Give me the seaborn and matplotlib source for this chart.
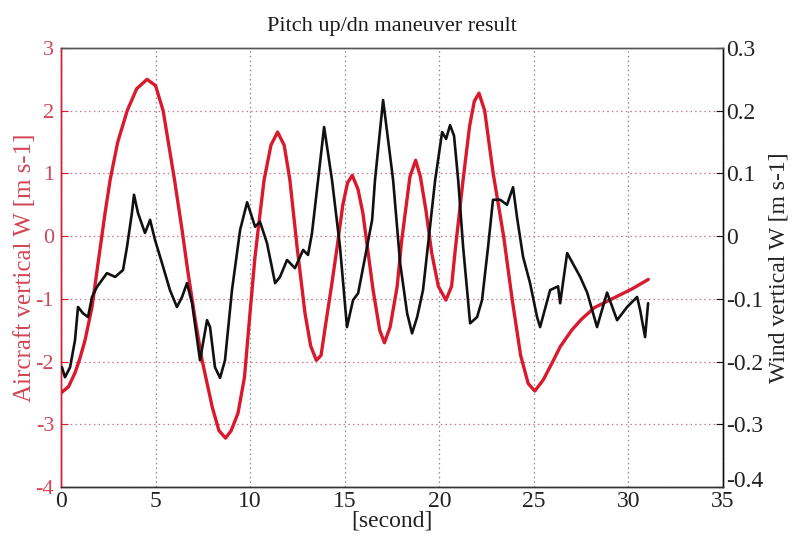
import numpy as np
import pandas as pd
import matplotlib
matplotlib.use("Agg")
import matplotlib.pyplot as plt
import seaborn as sns

# ---- data ----
aircraft_t = [0.0, 0.4, 0.74, 1.0, 1.27, 1.64, 1.96, 2.33, 2.6, 3.0, 3.5, 4.0, 4.55, 5.0, 5.4,
              5.7, 6.0, 6.4, 6.7, 7.1, 7.46, 8.0, 8.35, 8.7, 9.0, 9.36, 9.7, 10.0, 10.25, 10.5,
              10.74, 11.1, 11.45, 11.8, 12.1, 12.48, 12.9, 13.2, 13.5, 13.75, 14.0, 14.3, 14.6,
              14.9, 15.15, 15.4, 15.7, 15.96, 16.5, 16.85, 17.1, 17.4, 17.77, 18.0, 18.2, 18.45,
              18.75, 19.0, 19.3, 19.6, 19.95, 20.35, 20.65, 20.85, 21.26, 21.6, 21.85, 22.1,
              22.4, 22.6, 22.85, 23.4, 23.85, 24.3, 24.7, 25.05, 25.5, 26.0, 26.4, 27.0, 27.5,
              28.2, 29.4, 30.2, 31.05]
aircraft_w = [-2.5, -2.4, -2.18, -1.95, -1.66, -1.13, -0.43, 0.37, 0.9, 1.5, 2.0, 2.35, 2.5, 2.4, 2.0,
              1.45, 0.9, 0.1, -0.55, -1.34, -1.98, -2.73, -3.1, -3.22, -3.1, -2.82, -2.25, -1.2, -0.35, 0.3,
              0.9, 1.45, 1.66, 1.45, 0.9, -0.17, -1.23, -1.75, -1.98, -1.9, -1.39, -0.8, -0.17,
              0.5, 0.85, 0.97, 0.75, 0.37, -0.86, -1.5, -1.7, -1.45, -0.81, -0.1, 0.37, 0.95,
              1.21, 0.95, 0.4, -0.27, -0.8, -1.02, -0.8, -0.2, 0.9, 1.75, 2.15, 2.28,
              2.0, 1.55, 1.0, 0.0, -1.0, -1.9, -2.35, -2.47, -2.29, -2.0, -1.76, -1.5, -1.33,
              -1.14, -0.96, -0.84, -0.69]

wind_t = [0.05, 0.21, 0.48, 0.74, 0.90, 1.16, 1.43, 1.64, 1.90, 2.43, 2.86, 3.28, 3.49, 3.75, 3.86,
          4.07, 4.44, 4.71, 4.97, 5.34, 5.76, 6.13, 6.40, 6.66, 6.93, 7.35, 7.72, 7.88, 8.14, 8.41,
          8.67, 9.04, 9.47, 9.84, 10.10, 10.26, 10.52, 10.89, 11.32, 11.58, 11.95, 12.37, 12.80,
          13.06, 13.27, 13.59, 13.91, 14.33, 14.75, 15.12, 15.44, 15.71, 16.08, 16.45, 16.60,
          17.03, 17.56, 17.93, 18.30, 18.56, 18.83, 19.14, 19.51, 19.78, 20.15, 20.36, 20.57,
          20.78, 21.00, 21.26, 21.63, 22.00, 22.26, 22.58, 22.84, 23.22, 23.58, 23.90, 24.11,
          24.43, 24.80, 25.17, 25.33, 25.86, 26.28, 26.39, 26.76, 27.45, 27.82, 28.34, 28.87,
          29.40, 29.93, 30.46, 30.62, 30.88, 31.04]
wind_w = [-0.209, -0.225, -0.209, -0.166, -0.113, -0.123, -0.129, -0.097, -0.081, -0.059, -0.065,
          -0.054, -0.017, 0.037, 0.066, 0.037, 0.005, 0.026, -0.006, -0.043, -0.086, -0.113, -0.097,
          -0.075, -0.107, -0.198, -0.134, -0.145, -0.209, -0.226, -0.198, -0.086, 0.010, 0.054,
          0.030, 0.015, 0.023, -0.011, -0.075, -0.065, -0.038, -0.051, -0.022, -0.030, 0.005,
          0.089, 0.174, 0.089, -0.017, -0.145, -0.102, -0.091, -0.033, 0.026, 0.089, 0.217,
          0.089, -0.043, -0.123, -0.155, -0.129, -0.086, 0.015, 0.089, 0.166, 0.155, 0.177,
          0.160, 0.089, -0.017, -0.139, -0.129, -0.102, -0.017, 0.058, 0.058, 0.050, 0.078,
          0.030, -0.033, -0.075, -0.129, -0.145, -0.086, -0.080, -0.107, -0.027, -0.065,
          -0.090, -0.145, -0.090, -0.134, -0.113, -0.097, -0.118, -0.161, -0.107]

x_ticks = [0, 5, 10, 15, 20, 25, 30, 35]
left_ticks = [-4, -3, -2, -1, 0, 1, 2, 3]
left_labels = ["-4", "-3", "-2", "-1", "0", "1", "2", "3"]
right_ticks = [-0.4, -0.3, -0.2, -0.1, 0, 0.1, 0.2, 0.3]
right_labels = ["-0.4", "-0.3", "-0.2", "-0.1", "0", "0.1", "0.2", "0.3"]

title = "Pitch up/dn maneuver result"
xlabel = "[second]"
left_label = "Aircraft vertical W [m s-1]"
right_label = "Wind vertical W [m s-1]"

# ---- style ----
sns.set_style("white")
plt.rcParams["font.family"] = ["Liberation Serif", "DejaVu Serif"]
plt.rcParams["axes.unicode_minus"] = False

RED = "#d91a2e"
RED_TXT = "#d24656"
BLACK = "#111111"

df_a = pd.DataFrame({"t": aircraft_t, "w": aircraft_w})
df_w = pd.DataFrame({"t": wind_t, "w": wind_w})

fig = plt.figure(figsize=(7.92, 5.36), dpi=100)
ax = fig.add_axes([61 / 792, 1 - 487 / 536, (723 - 61) / 792, (487 - 48) / 536])
ax2 = ax.twinx()

sns.lineplot(data=df_a, x="t", y="w", ax=ax, color=RED, lw=2.4, estimator=None, sort=False, zorder=3)
sns.lineplot(data=df_w, x="t", y="w", ax=ax2, color=BLACK, lw=1.9, estimator=None, sort=False, zorder=4)

ax.set_xlim(0, 35)
ax.set_ylim(-4, 3)
ax2.set_ylim(-0.4, 0.3)
ax.set_xticks(x_ticks)
ax.set_yticks(left_ticks)
ax.set_yticklabels(left_labels)
ax2.set_yticks(right_ticks)
ax2.set_yticklabels(right_labels)
# lift the bottom right label slightly, as in the reference
ax2.get_yticklabels()[0].set_verticalalignment("baseline")

# grids: horizontal pinkish dotted, vertical grey dotted
ax.yaxis.grid(True, linestyle=(0, (1.2, 2.5)), color="#c47a88", lw=0.9)
ax.xaxis.grid(True, linestyle=(0, (1.2, 2.5)), color="#8a8a8a", lw=0.9)
ax.set_axisbelow(True)

ax.tick_params(axis="x", direction="in", length=5, labelsize=17, colors="#222222", pad=3)
ax.tick_params(axis="y", direction="in", length=5, labelsize=16, colors=RED, labelcolor=RED_TXT, pad=5)
ax2.tick_params(axis="y", direction="in", length=5, labelsize=17, colors=BLACK, labelcolor="#222222", pad=2)

for a in (ax, ax2):
    for s in a.spines.values():
        s.set_linewidth(1.0)
ax.spines["left"].set_color(RED)
ax2.spines["left"].set_color(RED)
ax.spines["bottom"].set_color("#333333")
ax.spines["top"].set_color("#555555")
ax2.spines["top"].set_color("#555555")
ax2.spines["right"].set_color(BLACK)
ax2.spines["bottom"].set_color("#333333")

ax.set_xlabel(xlabel, fontsize=17, color="#222222", labelpad=-1)
ax.set_ylabel(left_label, fontsize=18, color=RED_TXT, labelpad=0)
ax2.set_ylabel(right_label, fontsize=17, color="#222222", labelpad=4)
ax.set_title(title, fontsize=16, color="#1a1a1a", pad=12)

fig.savefig("out.png", dpi=100)
